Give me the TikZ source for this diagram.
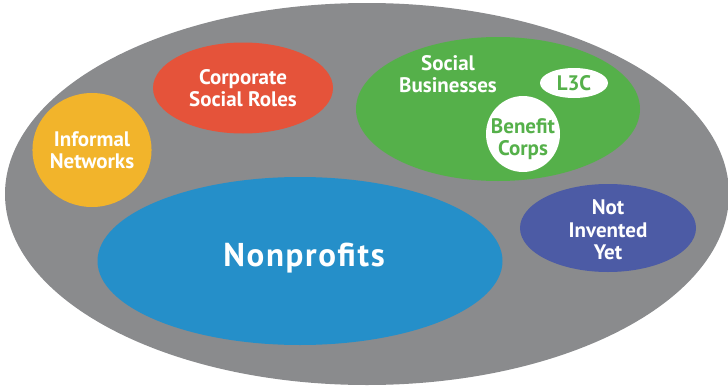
\documentclass[tikz,border=0pt]{standalone}
\usepackage{fontspec}
\setmainfont{PT Sans}
\usetikzlibrary{shapes.geometric}
\definecolor{outergray}{HTML}{8A8B8D}
\definecolor{corpred}{HTML}{E5533A}
\definecolor{infoorange}{HTML}{F2B42B}
\definecolor{socgreen}{HTML}{55B04A}
\definecolor{npblue}{HTML}{258FC9}
\definecolor{nivpurple}{HTML}{4C5BA5}
\tikzset{
  blob/.style={ellipse, inner sep=0pt, text=white, align=center,
    font=\bfseries\fontsize{21}{22.5}\selectfont},
  sub/.style={blob, fill=white, text=socgreen},
  lbl/.style={text=white, align=center, inner sep=0pt,
    font=\bfseries\fontsize{21}{22.5}\selectfont}
}
\begin{document}
\begin{tikzpicture}[x=1pt,y=-1pt]
\useasboundingbox (0,0) rectangle (728,388);
% outer field
\node[blob, fill=outergray, minimum width=724pt, minimum height=382pt] (field) at (367,194) {};
% sectors
\node[blob, fill=infoorange, minimum width=108pt, minimum height=114pt] (informal) at (92,150) {Informal\\Networks};
\node[blob, fill=corpred, minimum width=180pt, minimum height=91pt] (corporate) at (243,88) {Corporate\\Social Roles};
\node[blob, fill=socgreen, minimum width=284pt, minimum height=144pt] (social) at (498,109) {};
\node[lbl] (socialtext) at (448,74) {Social\\Businesses};
\node[sub, minimum width=68pt, minimum height=30pt] (l3c) at (574,83) {L3C};
\node[sub, minimum width=74pt, minimum height=76pt] (benefit) at (523,134) {};
\node[lbl, text=socgreen] (benefittext) at (523,139) {Benefit\\Corps};
\node[blob, fill=npblue, minimum width=405pt, minimum height=168pt] (nonprofits) at (300,261) {};
\node[lbl, font=\bfseries\fontsize{33}{36}\selectfont\addfontfeatures{LetterSpace=5}] (nptext) at (304,258) {Nonprofits};
\node[blob, fill=nivpurple, minimum width=176pt, minimum height=88pt] (notyet) at (608,228) {};
\node[lbl] (notyettext) at (608,230) {Not\\Invented\\Yet};
\end{tikzpicture}
\end{document}
